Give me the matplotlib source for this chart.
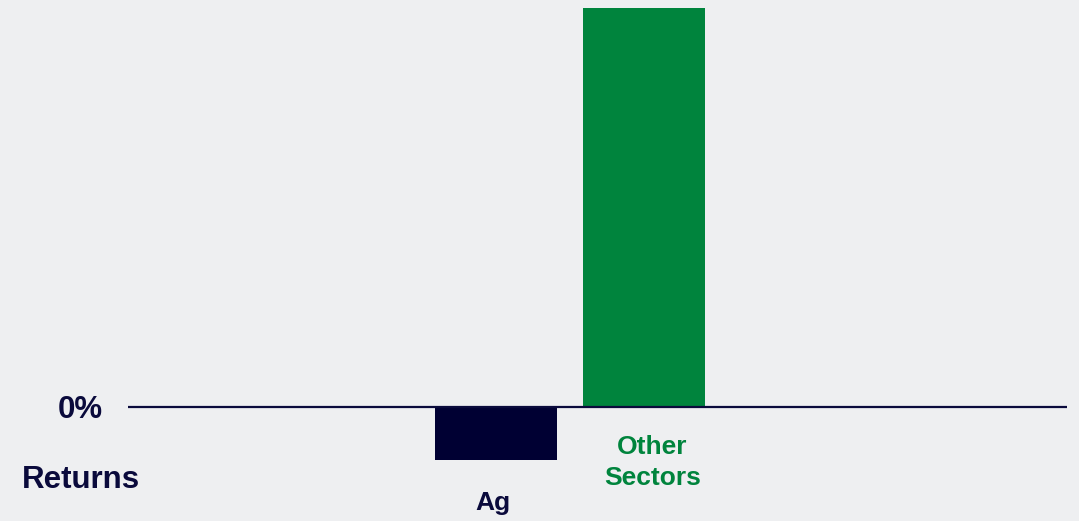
import matplotlib
matplotlib.use('Agg')

import matplotlib.pyplot as plt

plt.rcParams['font.family'] = ['Liberation Sans', 'DejaVu Sans']
plt.rcParams['font.weight'] = 'bold'

# Data (relative returns, no scale shown on the original)
categories = ['Ag', 'Other\nSectors']
returns = [-53, 399]
bar_colors = ['#000033', '#00843D']
label_colors = ['#0A0A3C', '#00843D']

BG = '#EEEFF1'
NAVY = '#0A0A3C'

fig = plt.figure(figsize=(10.79, 5.21), dpi=100, facecolor=BG)
ax = fig.add_axes([128 / 1079, 0.0, 939 / 1079, 1.0])
ax.set_facecolor(BG)

x = list(range(len(categories)))
ax.bar(x, returns, width=0.824, color=bar_colors, zorder=2)

# baseline
ax.axhline(0, color=NAVY, linewidth=1.6, zorder=3)

ax.set_xlim(-2.486, 3.858)
ax.set_ylim(-114, 407)

for s in ax.spines.values():
    s.set_visible(False)
ax.set_xticks([])
ax.set_yticks([])

# zero label, left of the baseline
ax.annotate('0%', xy=(0, 0), xycoords=ax.get_yaxis_transform(),
            xytext=(-18, -2.2), textcoords='offset points',
            ha='right', va='center', fontsize=22.5, fontweight='bold',
            color=NAVY, annotation_clip=False)

# category labels under the baseline
offsets = [-69, -40]
shifts = [-2, 6]
for i, (cat, val) in enumerate(zip(categories, returns)):
    ax.annotate(cat, xy=(x[i], 0), xytext=(shifts[i], offsets[i]),
                textcoords='offset points', ha='center', va='center',
                fontsize=19, fontweight='bold', color=label_colors[i],
                linespacing=1.35)

fig.text(81 / 1079, 1 - 480 / 521, 'Returns', ha='center', va='center',
         fontsize=22.5, fontweight='bold', color=NAVY)

fig.savefig('out.png', dpi=100, facecolor=BG)
